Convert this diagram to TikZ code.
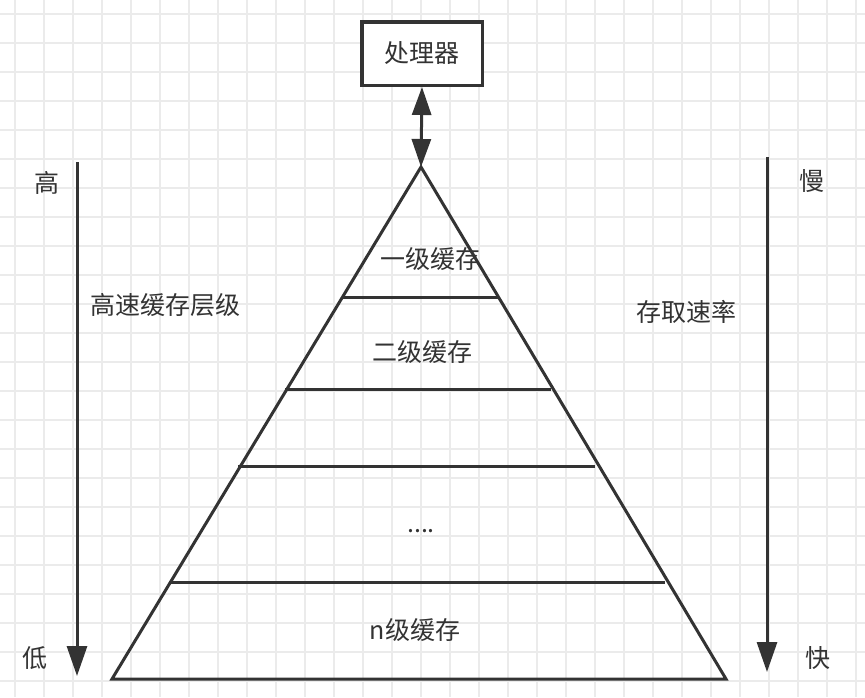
\documentclass[tikz,border=0pt]{standalone}
\usepackage{fontspec}
\setmainfont{Noto Sans CJK SC}
\usetikzlibrary{arrows.meta}
\definecolor{lc}{HTML}{333333}
\definecolor{tc}{HTML}{333333}
\definecolor{gridc}{HTML}{EBEBEB}
\begin{document}
\begin{tikzpicture}[x=1pt,y=-1pt,
  ln/.style={draw=lc, line width=3pt},
  lbl/.style={font=\fontsize{25}{29}\selectfont, text=tc, inner sep=0pt},
  arr/.style={ln, -{Triangle[length=30pt,width=20pt]}},
]
\fill[white] (0,0) rectangle (865,697);
\useasboundingbox (0,0) rectangle (865,697);
% grid
\foreach \i in {0,...,29} \draw[gridc, line width=1.5pt] ({15+29*\i},0) -- ({15+29*\i},697);
\foreach \j in {0,...,23} \draw[gridc, line width=1.5pt] (0,{14+29*\j}) -- (865,{14+29*\j});
% processor
\node[draw=lc, line width=3.5pt, fill=white, minimum width=120.5pt, minimum height=63.5pt, lbl] (cpu) at (422,53.5) {处理器};
% pyramid
\coordinate (apex) at (421,167);
\coordinate (bl) at (112,679);
\coordinate (br) at (726,679);
\draw[ln, line join=miter] (apex) -- (bl) -- (br) -- cycle;
\draw[ln] (343,297) -- (498,297);
\draw[ln] (285,389) -- (551,389);
\draw[ln] (238,466) -- (595,466);
\draw[ln] (170,582) -- (665,582);
% double arrow
\draw[ln, {Triangle[length=28pt,width=19pt]}-{Triangle[length=28pt,width=19pt]}] (cpu.south) -- (apex);
% side arrows
\coordinate (la1) at (77,162);
\coordinate (la2) at (77,676);
\coordinate (ra1) at (767,157);
\coordinate (ra2) at (767,672);
\draw[arr] (la1) -- (la2);
\draw[arr] (ra1) -- (ra2);
% labels
\node[lbl] (hi) at (47,183) {高};
\node[lbl] (lo) at (35,658) {低};
\node[lbl] (slow) at (812,181) {慢};
\node[lbl] (fast) at (818,658) {快};
\node[lbl] (lvl) at (165,305) {高速缓存层级};
\node[lbl] (rate) at (686,312) {存取速率};
\node[lbl] (l1) at (430,259) {一级缓存};
\node[lbl] (l2) at (422,352) {二级缓存};
\node[lbl] (ld) at (421,531) {....};
\node[lbl] (ln) at (415,630) {n级缓存};
\end{tikzpicture}
\end{document}
